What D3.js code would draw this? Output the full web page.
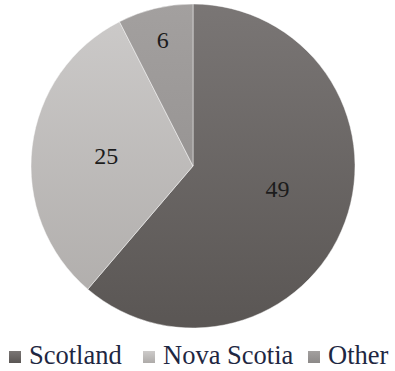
<!DOCTYPE html>
<html>
<head>
<meta charset="utf-8">
<script src="https://cdn.jsdelivr.net/npm/d3@7/dist/d3.min.js"></script>
<style>
  html, body { margin: 0; padding: 0; background: #fff; }
  svg { display: block; }
</style>
</head>
<body>
<svg id="chart" width="395" height="371"></svg>
<script>
// Origin of respondents
const categories = ["Scotland", "Nova Scotia", "Other"];
const values = [49, 25, 6];
const topColors = ["#7a7675", "#cdcbca", "#a3a09f"];
const bottomColors = ["#5a5654", "#aeaba9", "#8c8988"];

const cx = 193, cy = 166, r = 162;
const serifFont = '"Liberation Serif"';

const svg = d3.select("#chart").style("font-family", serifFont);
const defs = svg.append("defs");

// Vertical shading across the whole pie for each slice, and per legend swatch
categories.forEach((c, i) => {
  const g = defs.append("linearGradient")
    .attr("id", "grad" + i)
    .attr("gradientUnits", "userSpaceOnUse")
    .attr("x1", 0).attr("y1", -r).attr("x2", 0).attr("y2", r);
  g.append("stop").attr("offset", "0%").attr("stop-color", topColors[i]);
  g.append("stop").attr("offset", "100%").attr("stop-color", bottomColors[i]);
  const lg = defs.append("linearGradient")
    .attr("id", "lgrad" + i)
    .attr("x1", 0).attr("y1", 0).attr("x2", 0).attr("y2", 1);
  lg.append("stop").attr("offset", "0%").attr("stop-color", topColors[i]);
  lg.append("stop").attr("offset", "100%").attr("stop-color", bottomColors[i]);
});

const pie = d3.pie().sort(null).value(d => d);
const arcs = pie(values);
const arc = d3.arc().innerRadius(0).outerRadius(r);
const labelArcWide = d3.arc().innerRadius(r * 0.54).outerRadius(r * 0.54);
const labelArcNarrow = d3.arc().innerRadius(r * 0.8).outerRadius(r * 0.8);

const g = svg.append("g").attr("transform", `translate(${cx},${cy})`);

// Slices, starting at twelve o'clock and running clockwise
g.selectAll("path")
  .data(arcs)
  .join("path")
  .attr("d", arc)
  .attr("fill", (d, i) => `url(#grad${i})`)
  .attr("stroke", "rgba(255,255,255,0.45)")
  .attr("stroke-width", 1);

// Value labels; the large slice's label sits a little above its mid-angle
g.selectAll("text")
  .data(arcs)
  .join("text")
  .attr("transform", d => {
    const narrow = (d.endAngle - d.startAngle) < 0.8;
    const big = (d.endAngle - d.startAngle) > Math.PI;
    const shift = big ? -0.09 : 0;
    const a = narrow ? labelArcNarrow : labelArcWide;
    const [x, y] = a.centroid({ startAngle: d.startAngle + shift, endAngle: d.endAngle + shift });
    return `translate(${x},${y + 8})`;
  })
  .attr("text-anchor", "middle")
  .style("font-family", serifFont)
  .style("font-size", "24px")
  .style("fill", "#1c1c1c")
  .text(d => d.data);

// Legend
const legendX = [9, 143, 308];
const legend = svg.append("g");
categories.forEach((c, i) => {
  legend.append("rect")
    .attr("x", legendX[i]).attr("y", 351)
    .attr("width", 12).attr("height", 12)
    .attr("fill", `url(#lgrad${i})`);
  legend.append("text")
    .attr("x", legendX[i] + 20).attr("y", 364)
    .style("font-family", serifFont)
    .style("font-size", "26.5px")
    .style("fill", "#1e2742")
    .text(c);
});
</script>
</body>
</html>
